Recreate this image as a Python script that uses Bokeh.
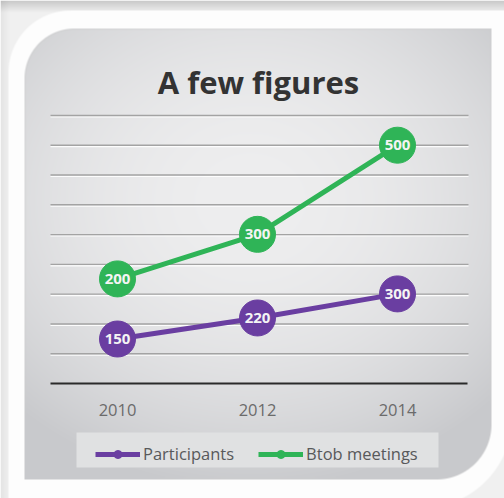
import numpy as np
from bokeh.plotting import figure
from bokeh.models import Range1d, Legend, LegendItem
from bokeh.core.properties import value
from bokeh.embed import file_html
from bokeh.resources import INLINE

# ---------------- data ----------------
title_text = "A few figures"
years = [2010, 2012, 2014]
year_labels = ["2010", "2012", "2014"]
participants = [150, 220, 300]
btob_meetings = [200, 300, 500]
series_names = ["Participants", "Btob meetings"]

# ---------------- layout constants ----------------
W, H = 504, 498
PURPLE = "#6a3ea1"
GREEN = "#2fb457"
FONT = "Open Sans"


def range_from_anchors(v1, s1, v2, s2, size, flip=True):
    """Range so that value v1 sits at screen pixel s1 and v2 at s2."""
    if flip:  # screen coordinate measured from the top
        k = (v2 - v1) / (s1 - s2)
        return Range1d(v1 - (size - s1) * k, v1 + s1 * k)
    k = (v2 - v1) / (s2 - s1)
    return Range1d(v1 - s1 * k, v1 + (size - s1) * k)


def rounded_box_sdf(X, Y, x0, y0, x1, y1, r_tl, r_br):
    cx, cy = (x0 + x1) / 2, (y0 + y1) / 2
    bx, by = (x1 - x0) / 2, (y1 - y0) / 2
    r = np.where((X < cx) & (Y < cy), r_tl,
                 np.where((X >= cx) & (Y >= cy), r_br, 0.0))
    qx = np.abs(X - cx) - bx + r
    qy = np.abs(Y - cy) - by + r
    out = np.hypot(np.maximum(qx, 0), np.maximum(qy, 0))
    ins = np.minimum(np.maximum(qx, qy), 0)
    return out + ins - r


# ---------------- background picture (decoration) ----------------
Yg, Xg = np.mgrid[0:H, 0:W].astype(float) + 0.5
rgb = np.zeros((H, W, 3))

# page behind the card
top_shade = np.clip(1 - Yg / 12.0, 0, 1)
left_shade = np.clip(1 - Xg / 9.0, 0, 1)
page = 240 - 40 * top_shade - 12 * left_shade
for c in range(3):
    rgb[..., c] = page

# white card
d_card = rounded_box_sdf(Xg, Yg, 8, 10, 512, 508, 62, 92)
a_card = np.clip(0.5 - d_card, 0, 1)
for c in range(3):
    rgb[..., c] = rgb[..., c] * (1 - a_card) + 253 * a_card

# grey panel with radial gradient
cx, cy = 250, 200
t = np.sqrt(((Xg - cx) / 340.0) ** 2 + ((Yg - cy) / 290.0) ** 2)
t = np.clip(t, 0, 1) ** 2
panel = np.stack([238 - 38 * t, 238 - 37 * t, 239 - 35 * t], axis=-1)

# legend backing box
d_leg = rounded_box_sdf(Xg, Yg, 76, 432, 438, 467, 0, 0)
a_leg = np.clip(0.5 - d_leg, 0, 1)[..., None]
panel = panel * (1 - a_leg) + np.array([224, 225, 226]) * a_leg

d_panel = rounded_box_sdf(Xg, Yg, 24, 28, 491, 479, 50, 55)
a_panel = np.clip(0.5 - d_panel, 0, 1)[..., None]
edge = np.clip(1 - np.abs(d_panel + 0.8) / 1.0, 0, 1)[..., None]
panel = panel * (1 - 0.5 * edge) + 205 * 0.5 * edge
rgb = rgb * (1 - a_panel) + panel * a_panel

img = np.empty((H, W), dtype=np.uint32)
view = img.view(dtype=np.uint8).reshape((H, W, 4))
view[..., :3] = np.clip(rgb, 0, 255).astype(np.uint8)
view[..., 3] = 255
img = np.flipud(img)

# ---------------- figure ----------------
p = figure(width=W, height=H, output_backend="svg", toolbar_location=None,
           x_range=Range1d(0, W), y_range=Range1d(0, H),
           x_axis_location=None, y_axis_location=None, min_border=0,
           outline_line_color=None, background_fill_color=None,
           border_fill_color="white")
p.grid.visible = False

p.extra_x_ranges = {"year": range_from_anchors(2010, 117, 2014, 397, W, flip=False)}
p.extra_y_ranges = {
    "btob": range_from_anchors(200, 278.4, 500, 144.7, H),
    "part": range_from_anchors(150, 338.5, 300, 293.4, H),
}

p.image_rgba(image=[img], x=0, y=0, dw=W, dh=H)

# horizontal rules
axis_y = H - 383
grid_step = 29.78
grid_y = [axis_y + grid_step * k for k in range(1, 10)]
p.segment(x0=[50] * 9, x1=[468] * 9, y0=[g - 1.4 for g in grid_y],
          y1=[g - 1.4 for g in grid_y], line_color="white", line_width=1.2,
          line_alpha=0.9)
p.segment(x0=[50] * 9, x1=[468] * 9, y0=grid_y, y1=grid_y,
          line_color="#a3a3a3", line_width=1.4)
p.segment(x0=[50], x1=[467], y0=[axis_y], y1=[axis_y],
          line_color="#2a2a2a", line_width=2)

# title
p.text(x=[258], y=[H - 81], text=[title_text], text_font=value(FONT),
       text_font_style="bold", text_font_size="31px", text_color="#333333",
       text_align="center", text_baseline="alphabetic")

# year labels
p.text(x=years, y=[H - 409] * len(years), text=year_labels,
       x_range_name="year", text_font=value(FONT), text_font_size="16.5px",
       text_color="#6b6b6b", text_align="center", text_baseline="middle")

# series
gl = p.line(years, btob_meetings, x_range_name="year", y_range_name="btob",
            line_color=GREEN, line_width=5)
pl = p.line(years, participants, x_range_name="year", y_range_name="part",
            line_color=PURPLE, line_width=5)
gs = p.scatter(years, btob_meetings, x_range_name="year", y_range_name="btob",
               size=36, fill_color=GREEN, line_color=GREEN)
ps = p.scatter(years, participants, x_range_name="year", y_range_name="part",
               size=36, fill_color=PURPLE, line_color=PURPLE)

p.text(x=years, y=btob_meetings, text=[str(v) for v in btob_meetings],
       x_range_name="year", y_range_name="btob", text_font=value(FONT),
       text_font_style="bold", text_font_size="15px", text_color="#f4f4f4",
       text_align="center", text_baseline="middle")
p.text(x=years, y=participants, text=[str(v) for v in participants],
       x_range_name="year", y_range_name="part", text_font=value(FONT),
       text_font_style="bold", text_font_size="15px", text_color="#f4f4f4",
       text_align="center", text_baseline="middle")

legend = Legend(items=[LegendItem(label=series_names[0], renderers=[pl, ps]),
                       LegendItem(label=series_names[1], renderers=[gl, gs])],
                orientation="horizontal", location=(95, H - 465),
                background_fill_alpha=0, border_line_color=None,
                padding=5, margin=0, spacing=24, label_standoff=3,
                glyph_width=45, glyph_height=20, label_height=20,
                label_text_font=FONT, label_text_font_size="16.5px",
                label_text_color="#58595b")
p.add_layout(legend)

open("out.html", "w").write(file_html(p, INLINE))
